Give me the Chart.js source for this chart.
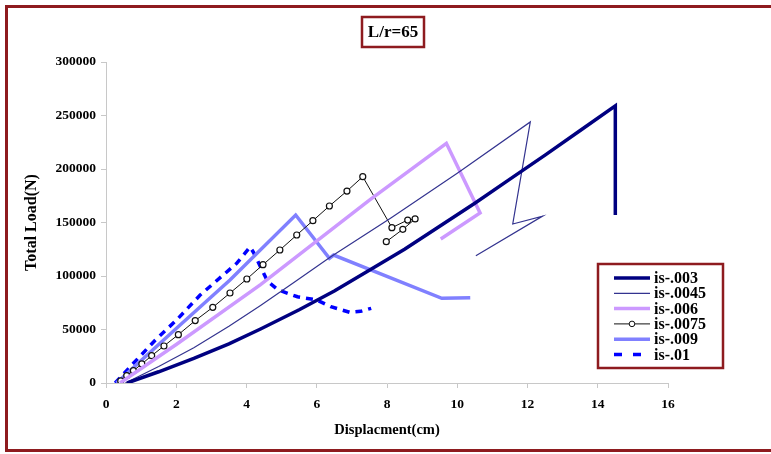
<!DOCTYPE html>
<html>
<head>
<meta charset="utf-8">
<script src="https://cdn.jsdelivr.net/npm/chart.js@4.4.0/dist/chart.umd.min.js"></script>
<style>
  html, body { margin: 0; padding: 0; background: #fff; }
  #wrap { width: 771px; height: 454px; }
</style>
</head>
<body>
<div id="wrap"><canvas id="lr" width="771" height="454"></canvas></div>
<script>
// values (x = displacement cm, y = total load N)
let seriesNames = ['is-.003', 'is-.0045', 'is-.006', 'is-.0075', 'is-.009', 'is-.01'];

let disp003 = [0.6, 1.5, 2.5, 3.5, 4.4, 5.5, 6.5, 7.4, 8.5, 9.5, 10.5, 11.5, 12.5, 13.5, 14.5, 14.5];
let load003 = [0, 10500, 23000, 36500, 50500, 68500, 86000, 103500, 125000, 146500, 168000, 190500, 213000, 236000, 259000, 157000];

let disp0045 = [0.55, 1.5, 2.5, 3.5, 4.4, 5.4, 6.4, 8.1, 10, 12.08, 11.58, 12.43, 10.53];
let load0045 = [0, 15500, 33000, 53000, 72500, 95000, 118000, 154000, 196000, 244000, 148600, 156000, 119000];

let disp006 = [0.4, 2, 4.4, 7.5, 9.69, 10.65, 9.53];
let load006 = [0, 36000, 92000, 171000, 224000, 159000, 134600];

let disp0075 = [0.42, 0.59, 0.78, 1.02, 1.30, 1.65, 2.06, 2.54, 3.04, 3.53, 4.01, 4.47, 4.95, 5.43, 5.89, 6.36, 6.86, 7.31, 8.14, 8.59, 8.80, 8.45, 7.98];
let load0075 = [1900, 6800, 11500, 17800, 25500, 34600, 45200, 58300, 70700, 84100, 97200, 110600, 124300, 138300, 151700, 165400, 179400, 192800, 145200, 152300, 153300, 143600, 132100];

let disp009 = [0.3, 1, 2, 3.53, 5.4, 6.36, 6.48, 9.56, 10.37];
let load009 = [0, 21000, 51000, 96300, 157000, 116500, 119600, 79100, 79700];

let disp01 = [0.26, 0.78, 1.4, 2.01, 2.68, 3.34, 3.72, 4.1, 4.2, 4.6, 4.9, 5.45, 6.0, 6.4, 6.95, 7.25, 7.55];
let load01 = [0, 18400, 40000, 58900, 82200, 101000, 111800, 127000, 122000, 95000, 87000, 80600, 77600, 71300, 66000, 67000, 69800];

let xTicks = [0, 2, 4, 6, 8, 10, 12, 14, 16];
let yTicks = [0, 50000, 100000, 150000, 200000, 250000, 300000];

function pts(xs, ys) {
    return xs.map(function (x, i) { return {x: x, y: ys[i]}; });
}

const serif = "'Liberation Serif', 'Times New Roman', serif";
const maroon = '#8e1b1f';

// outer frame, title box and legend box
const decor = {
    id: 'decor',
    afterDraw(chart) {
        const ctx = chart.ctx;
        ctx.save();
        ctx.strokeStyle = maroon;
        ctx.lineWidth = 3;
        ctx.strokeRect(6.5, 6.5, 775, 444);

        // title
        ctx.lineWidth = 2.5;
        ctx.strokeRect(362, 17, 62, 30);
        ctx.fillStyle = '#000';
        ctx.font = 'bold 17px ' + serif;
        ctx.textAlign = 'center';
        ctx.textBaseline = 'middle';
        ctx.fillText('L/r=65', 393, 32.5);

        // legend
        ctx.fillStyle = '#fff';
        ctx.fillRect(598, 264, 125, 104);
        ctx.strokeStyle = maroon;
        ctx.lineWidth = 2.5;
        ctx.strokeRect(598, 264, 125, 104);
        ctx.font = 'bold 16px ' + serif;
        ctx.textAlign = 'left';
        chart.data.datasets.forEach(function (ds, i) {
            const y = 278 + i * 15.3;
            ctx.strokeStyle = ds.borderColor;
            ctx.lineWidth = ds.borderWidth;
            ctx.beginPath();
            if (ds.borderDash) {
                ctx.moveTo(614, y); ctx.lineTo(622, y);
                ctx.moveTo(633, y); ctx.lineTo(641, y);
            } else {
                ctx.moveTo(614, y); ctx.lineTo(650, y);
            }
            ctx.stroke();
            if (ds.pointRadius > 0) {
                ctx.beginPath();
                ctx.arc(632, y, 2.8, 0, Math.PI * 2);
                ctx.fillStyle = '#fff';
                ctx.fill();
                ctx.lineWidth = 1;
                ctx.stroke();
            }
            ctx.fillStyle = '#000';
            ctx.fillText(ds.label, 654, y + 1);
        });
        ctx.restore();
    }
};

function line(label, data, color, width, extra) {
    return Object.assign({
        label: label,
        data: data,
        showLine: true,
        borderColor: color,
        backgroundColor: color,
        borderWidth: width,
        pointRadius: 0,
        tension: 0,
        fill: false
    }, extra || {});
}

var lr = document.getElementById('lr').getContext('2d');
var myChart = new Chart(lr, {
    type: 'scatter',
    data: {
        datasets: [
            line(seriesNames[0], pts(disp003, load003), '#000080', 3.5),
            line(seriesNames[1], pts(disp0045, load0045), '#33338f', 1.2),
            line(seriesNames[2], pts(disp006, load006), '#cc99ff', 3.5),
            line(seriesNames[3], pts(disp0075, load0075), '#111111', 1, {
                pointRadius: 3, pointBackgroundColor: '#fff', pointBorderColor: '#111', pointBorderWidth: 1.2
            }),
            line(seriesNames[4], pts(disp009, load009), '#8080ff', 3.5),
            line(seriesNames[5], pts(disp01, load01), '#0000ff', 3.5, {borderDash: [7, 6]})
        ]
    },
    options: {
        responsive: false,
        animation: false,
        layout: {padding: {left: 10, right: 103, top: 62, bottom: 8}},
        scales: {
            x: {
                type: 'linear',
                min: 0, max: 16,
                afterBuildTicks: function (s) { s.ticks = xTicks.map(function (v) { return {value: v}; }); },
                afterFit: function (s) { s.height = 63; },
                border: {color: '#c8c8c8', width: 1},
                grid: {drawOnChartArea: false, tickLength: 5, color: '#c8c8c8'},
                ticks: {color: '#000', padding: 8, font: {family: serif, weight: 'bold', size: 13.5}},
                title: {
                    display: true, text: 'Displacment(cm)', color: '#000',
                    padding: {top: 4, bottom: 7},
                    font: {family: serif, weight: 'bold', size: 14.5}
                }
            },
            y: {
                min: 0, max: 300000,
                afterBuildTicks: function (s) { s.ticks = yTicks.map(function (v) { return {value: v}; }); },
                afterFit: function (s) { s.width = 96; },
                border: {color: '#c8c8c8', width: 1},
                grid: {drawOnChartArea: false, tickLength: 5, color: '#c8c8c8'},
                ticks: {
                    color: '#000', padding: 5,
                    font: {family: serif, weight: 'bold', size: 13.5},
                    callback: function (v) { return String(v); }
                },
                title: {
                    display: true, text: 'Total Load(N)', color: '#000',
                    padding: {top: 12, bottom: 4},
                    font: {family: serif, weight: 'bold', size: 16}
                }
            }
        },
        plugins: {
            legend: {display: false},
            tooltip: {enabled: false}
        }
    },
    plugins: [decor]
});
</script>
</body>
</html>
